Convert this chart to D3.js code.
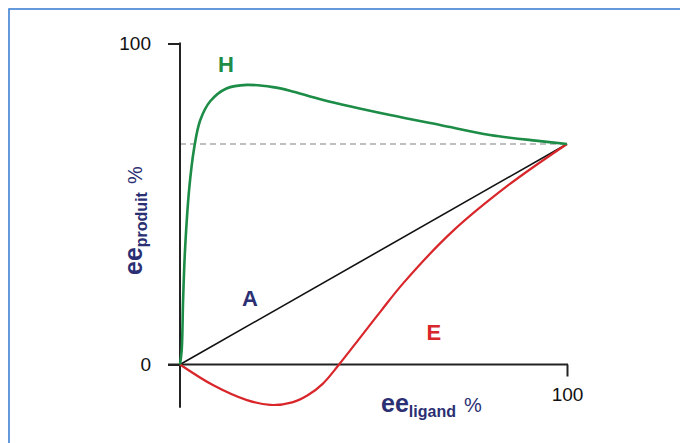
<!DOCTYPE html>
<html><head><meta charset="utf-8">
<script src="https://cdn.jsdelivr.net/npm/d3@7"></script>
<style>
html,body{margin:0;padding:0;background:#fff;}
svg{display:block;font-family:"Liberation Sans",Arial,sans-serif;}
</style></head>
<body>
<svg id="chart" width="680" height="443"></svg>
<script>
// Data (percent)
const hX = [0, 0.44, 0.8, 1.3, 2.4, 3.6, 5.2, 7.8, 12, 17.3, 24, 28.4, 37, 54.3, 67.2, 80.1, 93, 100];
const hY = [0, 4.5, 20, 35.7, 55, 67, 76, 82, 86, 87.1, 86.4, 85.3, 82.4, 77.7, 74.6, 71.5, 69.6, 68.7];
const aX = [0, 100];
const aY = [0, 68.7];
const eX = [0, 8.5, 17.3, 23.3, 29, 33, 36.8, 41.1, 46.5, 52, 57.6, 70, 85, 100];
const eY = [0, -6.4, -11.1, -12.6, -11.8, -9.6, -6.1, 0, 8.3, 16.8, 25.2, 41, 56, 68.7];
const refLevel = 68.7;
const yTicks = [0, 100];
const xTicks = [100];
const seriesNames = ["H", "A", "E"];

const svg = d3.select("#chart");
const x = d3.scaleLinear().domain([0, 100]).range([180, 567]);
const y = d3.scaleLinear().domain([0, 100]).range([364.5, 43.5]);

// frame
svg.append("rect").attr("x", 9).attr("y", 9).attr("width", 720).attr("height", 480)
  .attr("fill", "none").attr("stroke", "#3f82d4").attr("stroke-width", 1.6);

const axisCol = "#222";
// dashed reference
svg.append("line").attr("x1", x(0)).attr("x2", x(100)).attr("y1", y(refLevel)).attr("y2", y(refLevel))
  .attr("stroke", "#aaa").attr("stroke-width", 1.4).attr("stroke-dasharray", "6,4");

// y axis
const ya = svg.append("g").attr("transform", `translate(${x(0)},0)`)
  .call(d3.axisLeft(y).tickValues(yTicks).tickSize(12).tickPadding(17).tickFormat(d3.format("d")));
ya.select(".domain").remove();
ya.selectAll(".tick line").attr("stroke", axisCol).attr("stroke-width", 2);
ya.selectAll(".tick text").attr("font-size", 19).attr("fill", "#111").attr("font-family", "Liberation Sans, Arial, sans-serif");
svg.append("line").attr("x1", x(0)).attr("x2", x(0)).attr("y1", y(100) - 1).attr("y2", y(-13.5))
  .attr("stroke", axisCol).attr("stroke-width", 2);

// x axis
const xa = svg.append("g").attr("transform", `translate(0,${y(0)})`)
  .call(d3.axisBottom(x).tickValues(xTicks).tickSize(12).tickPadding(11).tickFormat(d3.format("d")));
xa.select(".domain").remove();
xa.selectAll(".tick line").attr("stroke", axisCol).attr("stroke-width", 2);
xa.selectAll(".tick text").attr("font-size", 19).attr("fill", "#111").attr("font-family", "Liberation Sans, Arial, sans-serif");
svg.append("line").attr("x1", x(0) - 12).attr("x2", x(100) + 1).attr("y1", y(0)).attr("y2", y(0))
  .attr("stroke", axisCol).attr("stroke-width", 2);

const line = d3.line().x(d => x(d[0])).y(d => y(d[1])).curve(d3.curveCatmullRom.alpha(0.5));
const zip = (a, b) => a.map((v, i) => [v, b[i]]);

svg.append("path").attr("d", line(zip(aX, aY))).attr("fill", "none").attr("stroke", "#111").attr("stroke-width", 1.6);
svg.append("path").attr("d", line(zip(eX, eY))).attr("fill", "none").attr("stroke", "#d8262b").attr("stroke-width", 2.2);
svg.append("path").attr("d", line(zip(hX, hY))).attr("fill", "none").attr("stroke", "#1c8c46").attr("stroke-width", 2.6);

// series labels
const labelPos = [[11.9, 93.6, "#1f8c48"], [18.1, 20.7, "#2b2f73"], [65.6, 10.1, "#d8262b"]];
seriesNames.forEach((n, i) => {
  svg.append("text").attr("x", x(labelPos[i][0])).attr("y", y(labelPos[i][1]))
    .attr("text-anchor", "middle").attr("dy", "0.36em")
    .attr("font-size", 22).attr("font-weight", "bold").attr("fill", labelPos[i][2]).text(n);
});

const navy = "#2b2f73";
// x axis title
const xt = svg.append("text").attr("x", 381).attr("y", 412).attr("fill", navy);
xt.append("tspan").attr("font-size", 25).attr("font-weight", "bold").text("ee");
xt.append("tspan").attr("font-size", 16).attr("font-weight", "bold").attr("dy", 5).text("ligand");
xt.append("tspan").attr("font-size", 20).attr("dy", -5).attr("dx", 8).text("%");

// y axis title
const yt = svg.append("text").attr("transform", "translate(142,275) rotate(-90)").attr("fill", navy);
yt.append("tspan").attr("font-size", 25).attr("font-weight", "bold").text("ee");
yt.append("tspan").attr("font-size", 16).attr("font-weight", "bold").attr("dy", 5).text("produit");
yt.append("tspan").attr("font-size", 20).attr("dy", -5).attr("dx", 8).text("%");
</script>
</body></html>
